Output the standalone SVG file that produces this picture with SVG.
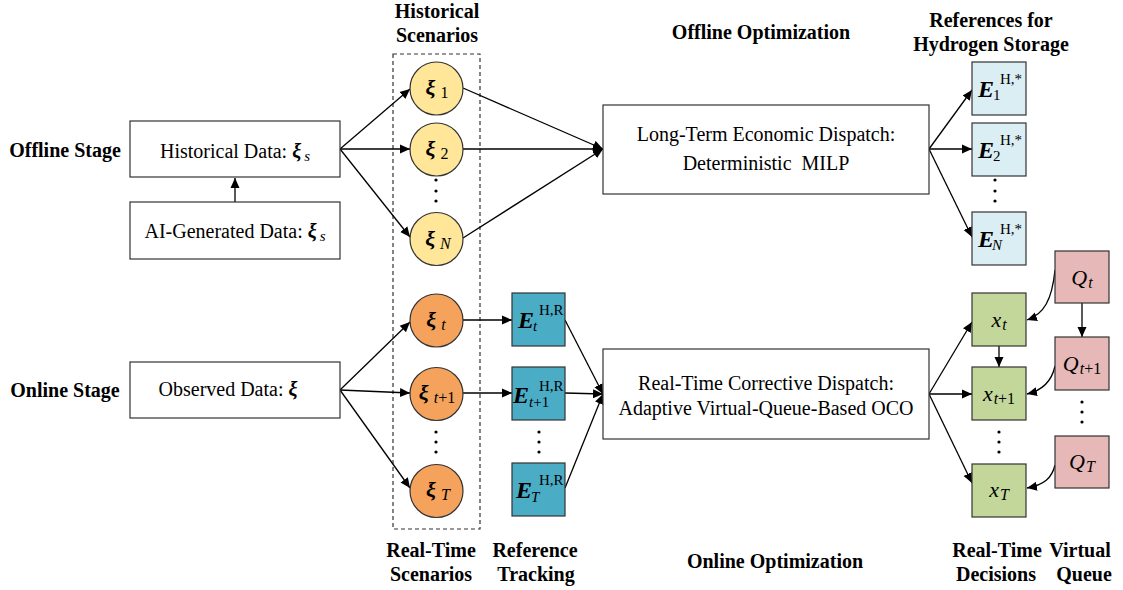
<svg xmlns="http://www.w3.org/2000/svg" width="1123" height="590" viewBox="0 0 1123 590">
  <defs>
    <marker id="arr" viewBox="0 0 10 10" refX="10" refY="5" markerWidth="10" markerHeight="10" markerUnits="userSpaceOnUse" orient="auto">
      <path d="M0,0.5 L10,5 L0,9.5 z" fill="#000"/>
    </marker>
  </defs>
  <style>
    text { font-family: "Liberation Serif", "Times New Roman", serif; fill: #000; }
    .title { font-size: 20px; font-weight: bold; text-anchor: middle; }
    .lbl { font-size: 20px; }
    .mid { text-anchor: middle; }
    .bi { font-weight: bold; font-style: italic; }
    .it { font-style: italic; }
    .box { fill: #fff; stroke: #333; stroke-width: 1.2; }
    .hist { fill: #FFE699; stroke: #333; stroke-width: 1.2; }
    .real { fill: #F5A35C; stroke: #333; stroke-width: 1.2; }
    .track { fill: #4BACC6; stroke: #333; stroke-width: 1.2; }
    .ref { fill: #DBEEF4; stroke: #333; stroke-width: 1.2; }
    .dec { fill: #C4D79B; stroke: #333; stroke-width: 1.2; }
    .que { fill: #E6B8B7; stroke: #333; stroke-width: 1.2; }
    .edge { fill: none; stroke: #000; stroke-width: 1.3; marker-end: url(#arr); }
    .dot { fill: #000; }
    .sym { font-size: 22px; }
    .sub { font-size: 15px; }
    .csub { font-size: 16px; }
    .sup { font-size: 15px; }
    .var { font-size: 22px; font-style: italic; }
  </style>

  <rect width="1123" height="590" fill="#fff"/>

  <!-- section headings -->
  <g id="headings">
    <text class="title" x="437" y="18">Historical</text>
    <text class="title" x="437" y="42">Scenarios</text>
    <text class="title" x="761" y="39">Offline Optimization</text>
    <text class="title" x="991" y="27">References for</text>
    <text class="title" x="991" y="51">Hydrogen Storage</text>
    <text class="title" x="65" y="157">Offline Stage</text>
    <text class="title" x="65" y="397">Online Stage</text>
    <text class="title" x="431" y="557">Real-Time</text>
    <text class="title" x="431" y="581">Scenarios</text>
    <text class="title" x="535" y="557">Reference</text>
    <text class="title" x="536" y="581">Tracking</text>
    <text class="title" x="775" y="568">Online Optimization</text>
    <text class="title" x="997" y="557">Real-Time</text>
    <text class="title" x="996" y="581">Decisions</text>
    <text class="title" x="1080" y="557">Virtual</text>
    <text class="title" x="1084" y="581">Queue</text>
  </g>

  <!-- scenario grouping frame -->
  <rect id="scenario-frame" x="393" y="54" width="87" height="475" fill="none" stroke="#333" stroke-width="1.2" stroke-dasharray="4,3"/>

  <!-- connectors -->
  <g id="connectors">
    <!-- AI data feeds historical data -->
    <line class="edge" x1="235" y1="202" x2="235" y2="178"/>
    <!-- historical data to scenarios -->
    <line class="edge" x1="340" y1="149" x2="410" y2="89"/>
    <line class="edge" x1="340" y1="149" x2="410" y2="149"/>
    <line class="edge" x1="340" y1="149" x2="410" y2="237"/>
    <!-- scenarios to long-term dispatch -->
    <line class="edge" x1="463" y1="88" x2="603" y2="149"/>
    <line class="edge" x1="463" y1="149" x2="603" y2="149"/>
    <line class="edge" x1="463" y1="238" x2="603" y2="149"/>
    <!-- long-term dispatch to storage references -->
    <line class="edge" x1="929" y1="149" x2="972" y2="90"/>
    <line class="edge" x1="929" y1="149" x2="972" y2="149"/>
    <line class="edge" x1="929" y1="149" x2="972" y2="237"/>
    <!-- observed data to real-time scenarios -->
    <line class="edge" x1="340" y1="390" x2="410" y2="322"/>
    <line class="edge" x1="340" y1="390" x2="410" y2="393"/>
    <line class="edge" x1="340" y1="390" x2="410" y2="488"/>
    <!-- scenarios to tracking references -->
    <line class="edge" x1="463" y1="320" x2="512" y2="320"/>
    <line class="edge" x1="463" y1="393" x2="512" y2="393"/>
    <!-- tracking references to corrective dispatch -->
    <line class="edge" x1="565" y1="320" x2="603" y2="394"/>
    <line class="edge" x1="565" y1="393" x2="603" y2="394"/>
    <line class="edge" x1="565" y1="488" x2="603" y2="394"/>
    <!-- corrective dispatch to decisions -->
    <line class="edge" x1="929" y1="394" x2="972" y2="322"/>
    <line class="edge" x1="929" y1="394" x2="972" y2="394"/>
    <line class="edge" x1="929" y1="394" x2="972" y2="483"/>
    <!-- decision chain and queue chain -->
    <line class="edge" x1="999" y1="346" x2="999" y2="367"/>
    <line class="edge" x1="1082" y1="303" x2="1082" y2="337"/>
    <!-- queues feed decisions -->
    <path class="edge" d="M1055,270 C1052,300 1044,314 1027,320"/>
    <path class="edge" d="M1055,366 C1052,380 1044,390 1027,394"/>
    <path class="edge" d="M1055,465 C1052,478 1044,485 1027,488"/>
  </g>

  <!-- data sources -->
  <g id="historical-data">
    <rect class="box" x="130" y="121" width="210" height="56"/>
    <text class="lbl mid" x="235" y="158">Historical Data: <tspan class="bi">ξ</tspan><tspan class="it sub" dx="3" dy="3">s</tspan></text>
  </g>
  <g id="ai-data">
    <rect class="box" x="130" y="202" width="210" height="57"/>
    <text class="lbl mid" x="235" y="238">AI-Generated Data: <tspan class="bi">ξ</tspan><tspan class="it sub" dx="3" dy="3">s</tspan></text>
  </g>
  <g id="observed-data">
    <rect class="box" x="130" y="362" width="210" height="56"/>
    <text class="lbl mid" x="228" y="396">Observed Data: <tspan class="bi">ξ</tspan></text>
  </g>

  <!-- historical scenarios -->
  <g id="xi-1">
    <circle class="hist" cx="436.5" cy="88.5" r="26.5"/>
    <text x="437" y="95" class="mid"><tspan class="bi sym">ξ</tspan><tspan class="csub" dx="5" dy="3">1</tspan></text>
  </g>
  <g id="xi-2">
    <circle class="hist" cx="436.5" cy="149.5" r="26.5"/>
    <text x="437" y="156" class="mid"><tspan class="bi sym">ξ</tspan><tspan class="csub" dx="5" dy="3">2</tspan></text>
  </g>
  <g id="xi-dots">
    <circle class="dot" cx="436" cy="180" r="1.6"/>
    <circle class="dot" cx="436" cy="191" r="1.6"/>
    <circle class="dot" cx="436" cy="201" r="1.6"/>
  </g>
  <g id="xi-N">
    <circle class="hist" cx="436.5" cy="239" r="26.5"/>
    <text x="438" y="246" class="mid"><tspan class="bi sym">ξ</tspan><tspan class="it csub" dx="5" dy="3">N</tspan></text>
  </g>

  <!-- real-time scenarios -->
  <g id="xi-t">
    <circle class="real" cx="436.5" cy="320.5" r="26.5"/>
    <text x="436" y="327" class="mid"><tspan class="bi sym">ξ</tspan><tspan class="it csub" dx="5" dy="3">t</tspan></text>
  </g>
  <g id="xi-t1">
    <circle class="real" cx="436.5" cy="394" r="26.5"/>
    <text x="437" y="400" class="mid"><tspan class="bi sym">ξ</tspan><tspan class="csub" dx="5" dy="3"><tspan class="it">t</tspan>+1</tspan></text>
  </g>
  <g id="xi-rt-dots">
    <circle class="dot" cx="436" cy="432" r="1.6"/>
    <circle class="dot" cx="436" cy="442" r="1.6"/>
    <circle class="dot" cx="436" cy="452" r="1.6"/>
  </g>
  <g id="xi-T">
    <circle class="real" cx="436.5" cy="491" r="26.5"/>
    <text x="438" y="497" class="mid"><tspan class="bi sym">ξ</tspan><tspan class="it csub" dx="5" dy="3">T</tspan></text>
  </g>

  <!-- tracking references -->
  <g id="E-t-HR">
    <rect class="track" x="512" y="293" width="53" height="53"/>
    <text><tspan class="bi" font-size="24" x="518" y="328">E</tspan><tspan class="it sub" font-size="16" x="533" y="331">t</tspan><tspan class="sup" x="539" y="315">H,R</tspan></text>
  </g>
  <g id="E-t1-HR">
    <rect class="track" x="512" y="367" width="53" height="53"/>
    <text><tspan class="bi" font-size="24" x="513" y="403">E</tspan><tspan class="sub" font-size="16" x="529" y="407"><tspan class="it">t</tspan>+1</tspan><tspan class="sup" x="539" y="391">H,R</tspan></text>
  </g>
  <g id="E-dots">
    <circle class="dot" cx="539" cy="432" r="1.6"/>
    <circle class="dot" cx="539" cy="442" r="1.6"/>
    <circle class="dot" cx="539" cy="452" r="1.6"/>
  </g>
  <g id="E-T-HR">
    <rect class="track" x="512" y="463" width="53" height="53"/>
    <text><tspan class="bi" font-size="24" x="516" y="498">E</tspan><tspan class="it sub" font-size="16" x="531" y="502">T</tspan><tspan class="sup" x="539" y="485">H,R</tspan></text>
  </g>

  <!-- dispatch stages -->
  <g id="long-term-dispatch">
    <rect class="box" x="603" y="105" width="326" height="89"/>
    <text class="lbl mid" x="766" y="141">Long-Term Economic Dispatch:</text>
    <text class="lbl mid" x="766" y="170" xml:space="preserve">Deterministic  MILP</text>
  </g>
  <g id="real-time-dispatch">
    <rect class="box" x="603" y="349" width="326" height="90"/>
    <text class="lbl mid" x="766" y="390">Real-Time Corrective Dispatch:</text>
    <text class="lbl mid" x="766" y="415">Adaptive Virtual-Queue-Based OCO</text>
  </g>

  <!-- hydrogen storage references -->
  <g id="E-1">
    <rect class="ref" x="972" y="62" width="54" height="53"/>
    <text><tspan class="bi" font-size="24" x="978" y="97">E</tspan><tspan class="sub" font-size="16" x="993" y="100">1</tspan><tspan class="sup" x="1000" y="84">H,*</tspan></text>
  </g>
  <g id="E-2">
    <rect class="ref" x="972" y="123" width="54" height="53"/>
    <text><tspan class="bi" font-size="24" x="978" y="158">E</tspan><tspan class="sub" font-size="16" x="993" y="161">2</tspan><tspan class="sup" x="1000" y="145">H,*</tspan></text>
  </g>
  <g id="E-ref-dots">
    <circle class="dot" cx="995" cy="180" r="1.6"/>
    <circle class="dot" cx="995" cy="191" r="1.6"/>
    <circle class="dot" cx="995" cy="201" r="1.6"/>
  </g>
  <g id="E-N">
    <rect class="ref" x="972" y="212" width="54" height="53"/>
    <text><tspan class="bi" font-size="24" x="978" y="247">E</tspan><tspan class="it sub" font-size="16" x="992" y="250">N</tspan><tspan class="sup" x="1000" y="234">H,*</tspan></text>
  </g>

  <!-- real-time decisions -->
  <g id="x-t">
    <rect class="dec" x="972" y="293" width="54" height="53"/>
    <text x="999" y="327" class="mid"><tspan class="var">x</tspan><tspan class="it" font-size="16" dx="1" dy="3">t</tspan></text>
  </g>
  <g id="x-t1">
    <rect class="dec" x="972" y="367" width="54" height="53"/>
    <text x="999" y="401" class="mid"><tspan class="var">x</tspan><tspan font-size="16" dx="1" dy="3"><tspan class="it">t</tspan>+1</tspan></text>
  </g>
  <g id="x-dots">
    <circle class="dot" cx="999" cy="432" r="1.6"/>
    <circle class="dot" cx="999" cy="442" r="1.6"/>
    <circle class="dot" cx="999" cy="452" r="1.6"/>
  </g>
  <g id="x-T">
    <rect class="dec" x="972" y="464" width="54" height="53"/>
    <text x="999" y="497" class="mid"><tspan class="var">x</tspan><tspan class="it" font-size="16" dx="1" dy="3">T</tspan></text>
  </g>

  <!-- virtual queues -->
  <g id="Q-t">
    <rect class="que" x="1055" y="251" width="54" height="52"/>
    <text x="1082" y="285" class="mid"><tspan class="var">Q</tspan><tspan class="it" font-size="16" dx="1" dy="3">t</tspan></text>
  </g>
  <g id="Q-t1">
    <rect class="que" x="1055" y="337" width="54" height="53"/>
    <text x="1082" y="371" class="mid"><tspan class="var">Q</tspan><tspan font-size="16" dx="1" dy="3"><tspan class="it">t</tspan>+1</tspan></text>
  </g>
  <g id="Q-dots">
    <circle class="dot" cx="1082" cy="402" r="1.6"/>
    <circle class="dot" cx="1082" cy="412" r="1.6"/>
    <circle class="dot" cx="1082" cy="422" r="1.6"/>
  </g>
  <g id="Q-T">
    <rect class="que" x="1055" y="436" width="54" height="52"/>
    <text x="1082" y="469" class="mid"><tspan class="var">Q</tspan><tspan class="it" font-size="16" dx="1" dy="3">T</tspan></text>
  </g>
</svg>
